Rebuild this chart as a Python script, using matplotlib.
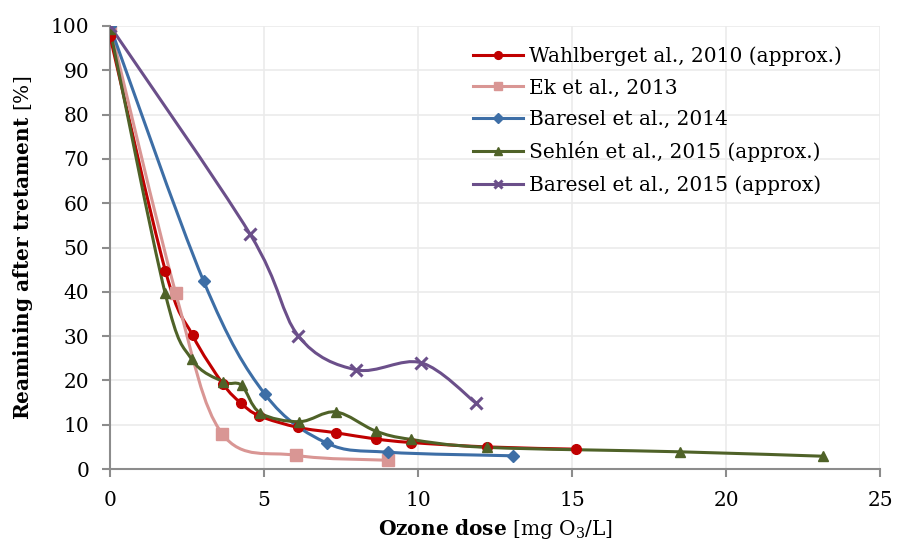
import matplotlib
matplotlib.use("Agg")
import matplotlib.pyplot as plt
import numpy as np
from matplotlib.path import Path
from matplotlib.patches import PathPatch
from matplotlib.lines import Line2D

plt.rcParams["font.family"] = "DejaVu Serif"
plt.rcParams["mathtext.fontset"] = "dejavuserif"

# series
wahlberg_x = [0, 1.8, 2.68, 3.66, 4.25, 4.85, 6.11, 7.33, 8.62, 9.77, 12.25, 15.13]
wahlberg_y = [97.7, 44.7, 30.2, 19.3, 14.9, 12.0, 9.4, 8.2, 6.8, 6.0, 5.0, 4.5]

ek_x = [0, 2.13, 3.64, 6.04, 9.01]
ek_y = [100, 39.8, 8.0, 3.1, 2.0]

baresel14_x = [0, 3.04, 5.03, 7.03, 9.04, 13.07]
baresel14_y = [100, 42.4, 16.9, 5.9, 3.8, 3.0]

sehlen_x = [0, 1.79, 2.65, 3.68, 4.27, 4.87, 6.15, 7.33, 8.62, 9.77, 12.25, 18.5, 23.16]
sehlen_y = [99.3, 39.7, 24.8, 19.7, 18.9, 12.7, 10.7, 12.9, 8.6, 6.7, 4.9, 3.9, 2.9]

baresel15_x = [0, 4.55, 6.11, 8.0, 10.1, 11.88]
baresel15_y = [100, 53.0, 30.1, 22.4, 24.0, 14.9]

series = [
    ("Wahlberget al., 2010 (approx.)", wahlberg_x, wahlberg_y, "#C00000", "o", 7),
    ("Ek et al., 2013", ek_x, ek_y, "#D99694", "s", 8),
    ("Baresel et al., 2014", baresel14_x, baresel14_y, "#3D6EA6", "D", 6),
    ("Sehlén et al., 2015 (approx.)", sehlen_x, sehlen_y, "#4F6228", "^", 7),
    ("Baresel et al., 2015 (approx)", baresel15_x, baresel15_y, "#6B4F8A", "x", 8),
]

FS = 14.5


def smooth_path(x, y):
    # bezier segments through the points, like a spreadsheet "smoothed line"
    p = np.column_stack([x, y]).astype(float)
    n = len(p)
    verts = [p[0]]
    codes = [Path.MOVETO]
    for i in range(n - 1):
        p0 = p[i - 1] if i > 0 else p[i]
        p3 = p[i + 2] if i + 2 < n else p[i + 1]
        c1 = p[i] + (p[i + 1] - p0) / 6.0
        c2 = p[i + 1] - (p3 - p[i]) / 6.0
        verts += [c1, c2, p[i + 1]]
        codes += [Path.CURVE4] * 3
    return Path(verts, codes)


fig = plt.figure(figsize=(8.98, 5.48), dpi=100)
ax = fig.add_axes([0.1225, 0.144, 0.8575, 0.8086])

handles = []
for label, x, y, color, marker, ms in series:
    patch = PathPatch(smooth_path(x, y), facecolor="none", edgecolor=color,
                      lw=2.2, zorder=3)
    ax.add_patch(patch)
    mew = 2.2 if marker == "x" else 1
    ax.plot(x, y, linestyle="none", marker=marker, color=color, ms=ms,
            mew=mew, zorder=4)
    handles.append(Line2D([], [], color=color, lw=2.2, marker=marker,
                          ms=ms * 0.8, mew=mew, label=label))

ax.set_xlim(0, 25)
ax.set_ylim(0, 100)
ax.set_xticks(range(0, 26, 5))
ax.set_yticks(range(0, 101, 10))
ax.grid(True, color="#EBEBEB", lw=1.2)
ax.set_axisbelow(True)
for s in ["top", "right"]:
    ax.spines[s].set_visible(False)
for s in ["left", "bottom"]:
    ax.spines[s].set_color("#8C8C8C")
    ax.spines[s].set_linewidth(1.5)
ax.tick_params(colors="#8C8C8C", labelcolor="black", labelsize=FS,
               width=1.5, length=6)
ax.tick_params(axis="y", pad=9)
ax.tick_params(axis="x", pad=10)

ax.set_xlabel(r"$\mathbf{Ozone\ dose}$ [mg O$_3$/L]", fontsize=FS, labelpad=5)
ax.set_ylabel(r"$\mathbf{Reamining\ after\ tretament}$ [%]", fontsize=FS,
              labelpad=11)

ax.legend(handles=handles, loc="upper left", bbox_to_anchor=(0.448, 0.995),
          frameon=False, fontsize=FS, handlelength=2.5, labelspacing=0.62,
          handletextpad=0.3)

fig.savefig("out.png", dpi=100)
